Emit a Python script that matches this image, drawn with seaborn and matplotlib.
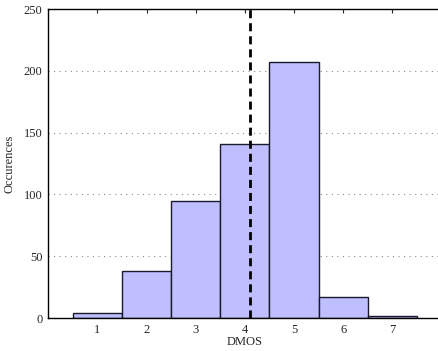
import numpy as np
import matplotlib
matplotlib.use('Agg')
import matplotlib.pyplot as plt
import seaborn as sns

# DMOS histogram values
dmos = [1, 2, 3, 4, 5, 6, 7]
counts = [4, 38, 95, 141, 207, 17, 2]
mean_dmos = 4.1

sns.set_style('white')
plt.rcParams['font.family'] = ['Liberation Serif', 'DejaVu Serif']
plt.rcParams['font.size'] = 9

fig = plt.figure(figsize=(4.38, 3.51), dpi=100)
ax = fig.add_axes([0.110, 0.094, 0.898, 0.880])

sns.histplot(x=dmos, weights=counts, discrete=True, color='#bfbfff', alpha=1,
             edgecolor='#1a1a2e', linewidth=1.0, ax=ax)
ax.axvline(mean_dmos, color='black', linestyle=(0, (2.9, 1.8)), linewidth=2)

ax.set_xlim(0, 8)
ax.set_ylim(0, 250)
ax.set_xticks(dmos)
ax.set_yticks(range(0, 251, 50))
ax.set_axisbelow(True)
ax.yaxis.grid(True, linestyle=(0, (1, 4)), color='#888888', linewidth=0.8)
ax.xaxis.grid(False)
for s in ax.spines.values():
    s.set_visible(True)
    s.set_color('black')
    s.set_linewidth(1.0)
ax.tick_params(direction='in', top=True, right=True, length=3, width=0.8,
               labelsize=9, pad=4)
ax.set_xlabel('DMOS', fontsize=9, labelpad=0)
ax.set_ylabel('Occurences', fontsize=9, labelpad=6)

fig.savefig('out.png', dpi=100)
